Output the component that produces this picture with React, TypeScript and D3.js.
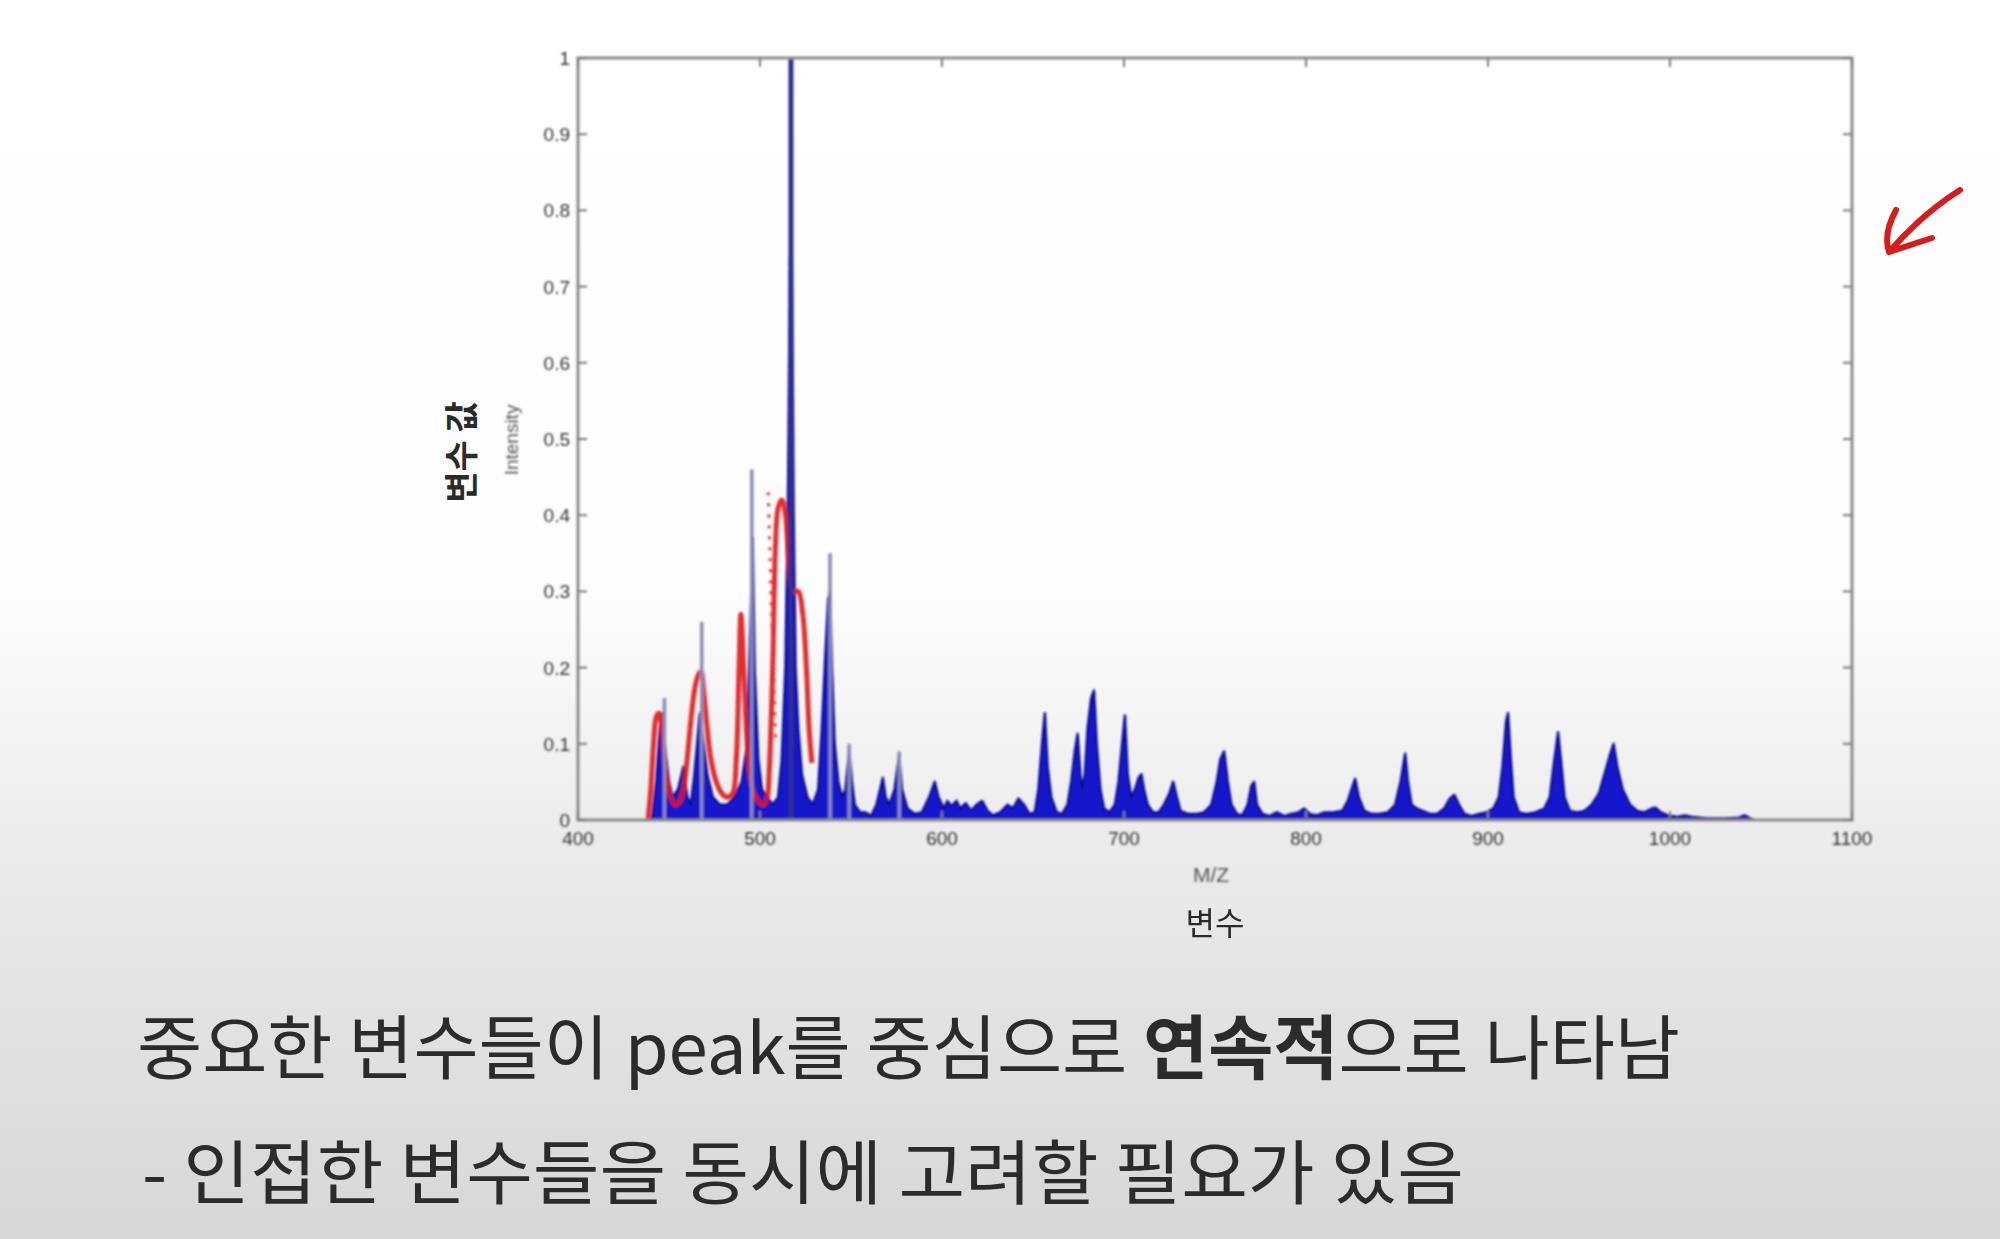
import React from "react";
import * as d3 from "d3";

const xTicks = [400, 500, 600, 700, 800, 900, 1000, 1100];
const yTicks = [0, 0.1, 0.2, 0.3, 0.4, 0.5, 0.6, 0.7, 0.8, 0.9, 1];
const yTickLabels = ["0", "0.1", "0.2", "0.3", "0.4", "0.5", "0.6", "0.7", "0.8", "0.9", "1"];

// blue spectrum envelope [m/z, intensity]
const blueSpectrum: [number, number][] = [
  [440, 0], [441, 0.005], [443, 0.05], [445, 0.12], [446.5, 0.14], [448, 0.09], [450, 0.05], [452, 0.03],
  [455, 0.04], [458, 0.07], [460, 0.03], [462, 0.02], [464, 0.06], [467, 0.14], [469, 0.1], [471, 0.06],
  [474, 0.03], [478, 0.02], [482, 0.02], [486, 0.03], [490, 0.05], [493, 0.1], [495, 0.28], [496, 0.37],
  [497, 0.2], [499, 0.08], [501, 0.04], [504, 0.03], [507, 0.02], [510, 0.03], [512, 0.08], [514, 0.2],
  [515.5, 0.45], [516.5, 0.74], [517.5, 0.74], [518.5, 0.4], [519.5, 0.2], [521, 0.12], [523, 0.06],
  [526, 0.03], [529, 0.02], [532, 0.04], [534, 0.12], [536, 0.22], [537.5, 0.29], [538.5, 0.3],
  [539.5, 0.2], [541, 0.1], [543, 0.05], [545, 0.03], [547, 0.04], [549, 0.09], [550.5, 0.05],
  [552, 0.02], [555, 0.01], [558, 0.01], [561, 0.005], [564, 0.02], [566, 0.04], [567.5, 0.055],
  [569, 0.03], [571, 0.02], [574, 0.04], [576.5, 0.085], [578, 0.04], [581, 0.015], [585, 0.008],
  [589, 0.01], [593, 0.03], [596, 0.05], [598, 0.03], [601, 0.015], [603, 0.025], [605, 0.018],
  [608, 0.025], [610, 0.015], [613, 0.022], [616, 0.012], [619, 0.02], [622, 0.025], [625, 0.012],
  [628, 0.006], [632, 0.01], [636, 0.02], [639, 0.015], [642, 0.028], [645, 0.02], [648, 0.008],
  [651, 0.01], [653, 0.04], [655, 0.1], [656.5, 0.14], [658, 0.07], [660, 0.03], [663, 0.01],
  [666, 0.008], [669, 0.02], [671, 0.05], [673, 0.09], [674.5, 0.113], [676, 0.06], [677, 0.04],
  [678.5, 0.06], [680, 0.12], [682, 0.16], [683.5, 0.17], [685, 0.1], [687, 0.04], [689, 0.015],
  [692, 0.01], [695, 0.02], [697, 0.05], [699, 0.1], [700.5, 0.137], [702, 0.06], [704, 0.03],
  [706, 0.04], [708, 0.055], [709.5, 0.06], [711, 0.04], [713, 0.02], [716, 0.01], [719, 0.01],
  [722, 0.02], [725, 0.035], [727, 0.05], [729, 0.03], [731, 0.012], [735, 0.008], [740, 0.008],
  [744, 0.01], [748, 0.02], [751, 0.05], [753, 0.08], [755, 0.09], [757, 0.05], [759, 0.02],
  [762, 0.008], [765, 0.006], [768, 0.02], [770, 0.045], [771.5, 0.05], [773, 0.02], [776, 0.008],
  [780, 0.005], [784, 0.01], [788, 0.005], [792, 0.008], [796, 0.01], [799, 0.015], [802, 0.008],
  [806, 0.006], [810, 0.01], [815, 0.01], [820, 0.012], [823, 0.025], [825, 0.04], [827, 0.054],
  [829, 0.03], [832, 0.012], [836, 0.008], [840, 0.008], [845, 0.01], [849, 0.02], [852, 0.05],
  [854.5, 0.087], [856, 0.05], [858, 0.02], [861, 0.015], [864, 0.012], [868, 0.008], [872, 0.008],
  [876, 0.015], [879, 0.028], [881.5, 0.033], [884, 0.02], [887, 0.008], [891, 0.005], [895, 0.008],
  [899, 0.01], [903, 0.015], [906, 0.03], [908, 0.07], [910, 0.13], [911, 0.14], [912.5, 0.08],
  [914, 0.03], [917, 0.01], [921, 0.008], [926, 0.01], [931, 0.015], [934, 0.03], [936, 0.07],
  [938.5, 0.115], [940, 0.08], [942, 0.03], [945, 0.012], [949, 0.01], [953, 0.012], [957, 0.02],
  [961, 0.035], [964, 0.06], [967, 0.085], [969, 0.1], [971, 0.07], [974, 0.04], [978, 0.02],
  [982, 0.012], [986, 0.01], [990, 0.015], [992, 0.016], [995, 0.01], [999, 0.006], [1004, 0.004],
  [1008, 0.006], [1012, 0.004], [1020, 0.002], [1030, 0.002], [1038, 0.003], [1041, 0.006],
  [1044, 0.002], [1046, 0],
];

// thin tall spikes rising above the envelope
const spikeMz = [447.5, 468, 495.5, 517, 538.5, 549, 576.5];
const spikeTop = [0.16, 0.26, 0.46, 1.0, 0.35, 0.1, 0.09];

// red smoothed curve [m/z, intensity]
const redCurve: [number, number][] = [
  [438.5, 0], [440, 0.04], [441.5, 0.1], [443, 0.135], [444.5, 0.14], [446, 0.125], [447.5, 0.08],
  [449, 0.05], [451, 0.03], [453.5, 0.02], [456, 0.025], [458, 0.04], [460, 0.08], [462, 0.13],
  [464, 0.17], [466, 0.19], [467.5, 0.195], [469, 0.17], [471, 0.12], [473, 0.08], [476, 0.05],
  [479, 0.035], [482, 0.03], [485, 0.035], [487, 0.08], [488.5, 0.2], [489.5, 0.27], [491, 0.2],
  [492.5, 0.12], [494, 0.07], [496, 0.04], [499, 0.025], [502, 0.02], [504, 0.03], [505, 0.06],
  [507, 0.2], [508.5, 0.36], [510, 0.41], [512, 0.42], [514, 0.4], [516, 0.33], [518, 0.3],
  [521, 0.3], [523.5, 0.27], [525.5, 0.2], [527, 0.12], [528.5, 0.075],
];
const redDotted: [number, number][] = [
  [504.5, 0.43], [505, 0.39], [505.5, 0.35], [506, 0.3], [506.5, 0.26], [507.5, 0.2], [508, 0.15], [508.5, 0.1],
];

const yLabelKo = "변수 값";
const yLabelEn = "Intensity";
const xLabelEn = "M/Z";
const xLabelKo = "변수";
const line1a = "중요한 변수들이 peak를 중심으로 ";
const line1b = "연속적";
const line1c = "으로 나타남";
const line2 = "- 인접한 변수들을 동시에 고려할 필요가 있음";

export default function App() {
  const W = 2000;
  const H = 1239;
  const x = d3.scaleLinear().domain([400, 1100]).range([578, 1852]);
  const y = d3.scaleLinear().domain([0, 1]).range([820, 58]);
  const area = d3
    .area<[number, number]>()
    .x((d) => x(d[0]))
    .y0(y(0))
    .y1((d) => y(d[1]));
  const outline = d3
    .line<[number, number]>()
    .x((d) => x(d[0]))
    .y((d) => y(d[1]));
  const redLine = d3
    .line<[number, number]>()
    .x((d) => x(d[0]))
    .y((d) => y(d[1]))
    .curve(d3.curveCatmullRom);

  const [x0, x1] = x.range();
  const [yb, yt] = y.range();
  const numFont = "'Liberation Sans', Arial, sans-serif";
  const koFont = "'Noto Sans CJK KR', sans-serif";

  return (
    <svg width={W} height={H} style={{ position: "fixed", left: 0, top: 0 }}>
      <defs>
        <linearGradient id="bg" x1="0" y1="0" x2="0" y2="1">
          <stop offset="0" stopColor="#ffffff" />
          <stop offset="0.48" stopColor="#fdfdfd" />
          <stop offset="0.66" stopColor="#ededed" />
          <stop offset="0.82" stopColor="#e2e2e2" />
          <stop offset="1" stopColor="#d7d7d7" />
        </linearGradient>
        <filter id="soft" x="-5%" y="-5%" width="110%" height="110%">
          <feGaussianBlur stdDeviation="0.8" />
        </filter>
      </defs>
      <rect x={0} y={0} width={W} height={H} fill="url(#bg)" />

      <g filter="url(#soft)">
        {/* blue spectrum */}
        <path d={area(blueSpectrum) || ""} fill="#1717cc" />
        <path d={outline(blueSpectrum) || ""} fill="none" stroke="#10109e" strokeWidth={2.5} strokeLinejoin="round" />

        {/* red curve */}
        <path d={redLine(redCurve) || ""} fill="none" stroke="#e01818" strokeWidth={5} strokeOpacity={0.9} strokeLinejoin="round" />
        <path d={redLine(redDotted) || ""} fill="none" stroke="#e83030" strokeWidth={3} strokeDasharray="3 8" />

        {/* spikes */}
        {spikeMz.map((m, i) => (
          <line
            key={i}
            x1={x(m)}
            x2={x(m)}
            y1={y(0)}
            y2={y(spikeTop[i])}
            stroke={spikeTop[i] > 0.9 ? "#2e2e96" : "#8a8abc"}
            strokeWidth={spikeTop[i] > 0.9 ? 5 : 3.5}
          />
        ))}

        {/* axes frame */}
        <rect x={x0} y={yt} width={x1 - x0} height={yb - yt} fill="none" stroke="#8a8a8a" strokeWidth={3} />
        {yTicks.map((t, i) => (
          <g key={"y" + i}>
            <line x1={x0} x2={x0 + 9} y1={y(t)} y2={y(t)} stroke="#7a7a7a" strokeWidth={2} />
            <line x1={x1} x2={x1 - 9} y1={y(t)} y2={y(t)} stroke="#7a7a7a" strokeWidth={2} />
            <text x={x0 - 8} y={y(t) + 7} textAnchor="end" fontFamily={numFont} fontSize={19} fill="#333">
              {yTickLabels[i]}
            </text>
          </g>
        ))}
        {xTicks.map((t, i) => (
          <g key={"x" + i}>
            <line x1={x(t)} x2={x(t)} y1={yb} y2={yb - 9} stroke="#7a7a7a" strokeWidth={2} />
            <line x1={x(t)} x2={x(t)} y1={yt} y2={yt + 9} stroke="#7a7a7a" strokeWidth={2} />
            <text x={x(t)} y={yb + 25} textAnchor="middle" fontFamily={numFont} fontSize={19} fill="#333">
              {t}
            </text>
          </g>
        ))}

        {/* axis labels */}
        <text
          transform="translate(518,440) rotate(-90)"
          textAnchor="middle"
          fontFamily={numFont}
          fontSize={19}
          fill="#555"
        >
          {yLabelEn}
        </text>
        <text x={1211} y={882} textAnchor="middle" fontFamily={numFont} fontSize={21} fill="#555">
          {xLabelEn}
        </text>
      </g>

      <text
        transform="translate(474,452) rotate(-90)"
        textAnchor="middle"
        fontFamily={koFont}
        fontSize={34}
        fontWeight={700}
        fill="#2a2a2a"
      >
        {yLabelKo}
      </text>
      <text x={1215} y={935} textAnchor="middle" fontFamily={koFont} fontSize={32} fill="#2a2a2a">
        {xLabelKo}
      </text>

      {/* red hand-drawn arrow */}
      <path
        d="M1960,190 Q1922,214 1889,252 M1896,210 Q1883,234 1889,252 Q1910,245 1932,238"
        fill="none"
        stroke="#d81c1c"
        strokeWidth={6}
        strokeLinecap="round"
        strokeLinejoin="round"
      />

      {/* slide text */}
      <text
        x={137}
        y={1074}
        fontFamily={koFont}
        fontSize={70}
        fill="#2b2b2b"
        textLength={1543}
        lengthAdjust="spacingAndGlyphs"
      >
        {line1a}
        <tspan fontWeight={700}>{line1b}</tspan>
        {line1c}
      </text>
      <text
        x={142}
        y={1199}
        fontFamily={koFont}
        fontSize={70}
        fill="#2b2b2b"
        textLength={1322}
        lengthAdjust="spacingAndGlyphs"
      >
        {line2}
      </text>
    </svg>
  );
}
